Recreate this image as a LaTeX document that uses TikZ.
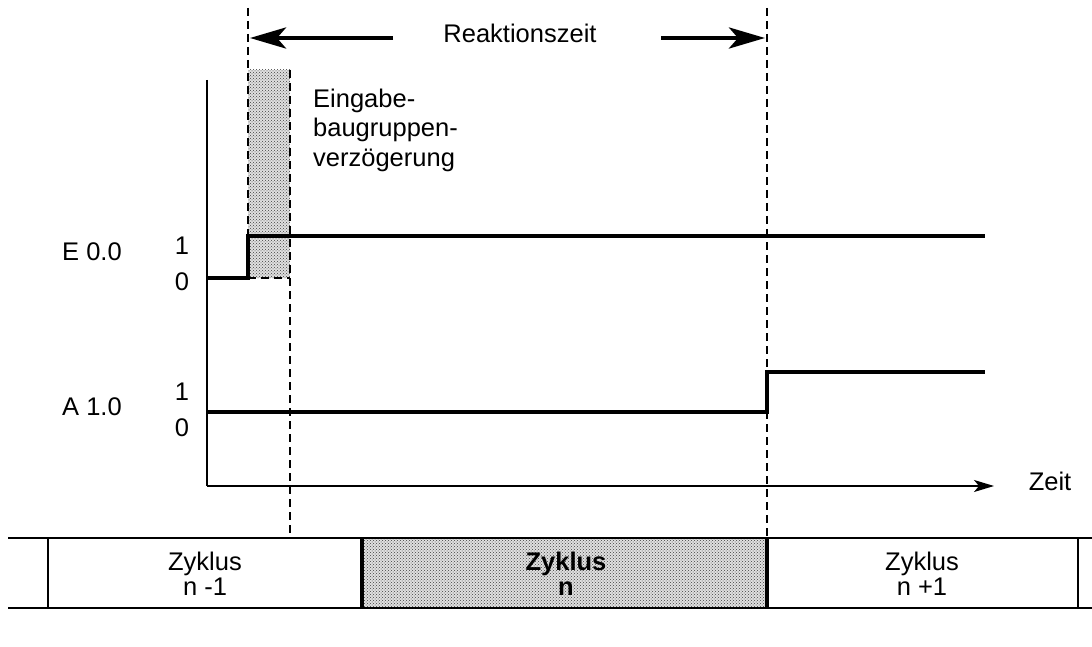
\documentclass[tikz,border=0pt]{standalone}
\usepackage{fontspec}
\setmainfont{Liberation Sans}
\usetikzlibrary{arrows.meta,patterns}
\begin{document}
\begin{tikzpicture}[x=1pt,y=-1pt,
  font=\fontsize{25.5}{25}\selectfont,
  sig/.style={line width=4pt, line cap=butt, line join=miter},
  guide/.style={line width=1.5pt, dash pattern=on 8pt off 5pt},
  axisline/.style={line width=1.6pt},
  barline/.style={line width=1.8pt},
  thickbar/.style={line width=3.5pt},
  shade/.style={fill=black!12, pattern=crosshatch dots, pattern color=black!75},
  lbl/.style={inner sep=0pt},
  bigarrow/.style={line width=4.5pt, -{Stealth[length=36pt,width=21pt,inset=9pt]}},
  axarrow/.style={axisline, -{Stealth[length=20pt,width=12pt,inset=5pt]}}]
\useasboundingbox (0,0) rectangle (1092,647);
% shaded areas
\fill[black!12] (248,70) rectangle (290,278);
\fill[shade] (248,70) rectangle (290,278);
\fill[black!12] (362,538) rectangle (767,608);
\fill[shade] (362,538) rectangle (767,608);
% guides
\coordinate (g1t) at (248,8);
\coordinate (g1b) at (248,236);
\coordinate (g2t) at (290,70);
\coordinate (g2b) at (290,538);
\coordinate (g3t) at (767,8);
\coordinate (g3b) at (767,538);
\draw[guide] (g1t) -- (g1b);
\draw[guide] (g2t) -- (g2b);
\draw[guide] (g3t) -- (g3b);
\draw[guide] (248,278) -- (290,278);
% axes
\coordinate (o) at (207,486);
\coordinate (yt) at (207,80);
\coordinate (xe) at (994,486);
\draw[axisline] (yt) -- (o);
\draw[axarrow] (o) -- (xe);
\node[lbl] (zeit) at (1050,481) {Zeit};
% signals
\draw[sig] (207,278) -- (248,278) -- (248,236) -- (985,236);
\draw[sig] (207,412) -- (767,412) -- (767,372) -- (985,372);
% labels
\node[lbl] (e) at (92,252) {E 0.0};
\node[lbl] (e1) at (182,246) {1};
\node[lbl] (e0) at (182,282) {0};
\node[lbl] (a) at (92,407) {A 1.0};
\node[lbl] (a1) at (182,392) {1};
\node[lbl] (a0) at (182,428) {0};
% reaction time
\node[lbl] (rz) at (520,33) {Reaktionszeit};
\coordinate (la) at (393,38);
\coordinate (lt) at (250,38);
\coordinate (ra) at (661,38);
\coordinate (rt) at (765,38);
\draw[bigarrow] (la) -- (lt);
\draw[bigarrow] (ra) -- (rt);
\node[lbl, align=left, anchor=north west, font=\fontsize{25.5}{29.5}\selectfont] (delay) at (313,88.4) {Eingabe-\\baugruppen-\\verzögerung};
% cycle bar
\draw[barline] (8,538) -- (1092,538);
\draw[barline] (8,608) -- (1092,608);
\draw[barline] (48,538) -- (48,608);
\draw[barline] (1078,538) -- (1078,608);
\draw[thickbar] (362,538) -- (362,608);
\draw[thickbar] (767,538) -- (767,608);
\node[lbl, align=center] (c1) at (205,574) {Zyklus\\n -1};
\node[lbl, align=center, font=\fontsize{25.5}{25}\selectfont\bfseries] (c2) at (566,574) {Zyklus\\n};
\node[lbl, align=center] (c3) at (922,574) {Zyklus\\n +1};
\end{tikzpicture}
\end{document}
